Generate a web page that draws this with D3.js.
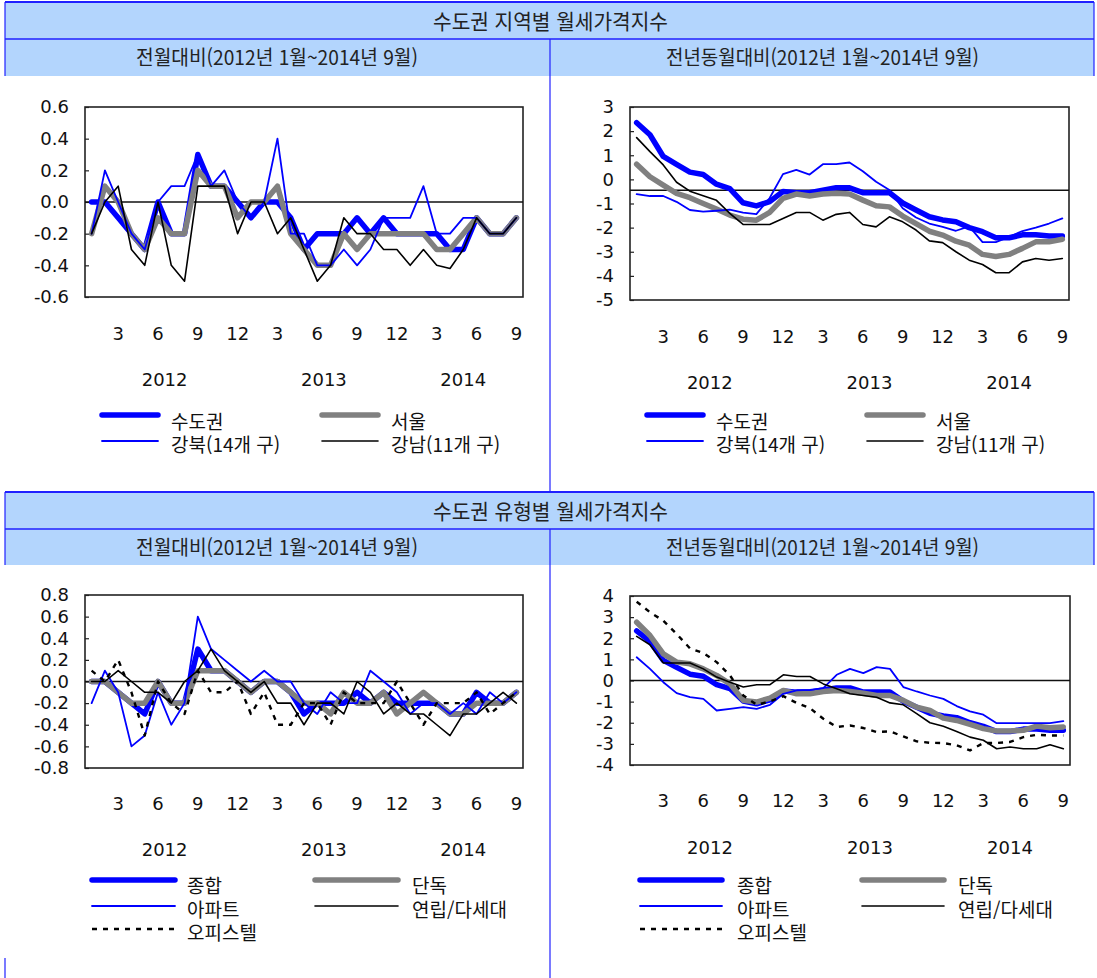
<!DOCTYPE html>
<html lang="ko">
<head>
<meta charset="utf-8">
<script src="https://cdn.jsdelivr.net/npm/d3@7"></script>
<style>
  body { margin: 0; background: #fff; }
  svg { display: block; }
  .axis text, .year-label { font-family: "DejaVu Sans", sans-serif; font-size: 18px; fill: #111; }
  .legend text { font-family: "Noto Sans CJK KR", sans-serif; font-size: 19px; fill: #111; }
  .band-text { font-family: "Noto Sans CJK KR", sans-serif; font-size: 20px; fill: #222; }
</style>
</head>
<body>
<svg id="page" width="1097" height="978"></svg>
<script>
// 2012.01 ~ 2014.09, monthly
const periods = [
  "2012.01","2012.02","2012.03","2012.04","2012.05","2012.06","2012.07","2012.08","2012.09","2012.10","2012.11","2012.12",
  "2013.01","2013.02","2013.03","2013.04","2013.05","2013.06","2013.07","2013.08","2013.09","2013.10","2013.11","2013.12",
  "2014.01","2014.02","2014.03","2014.04","2014.05","2014.06","2014.07","2014.08","2014.09"
];

// 지역별, 전월대비 (%)
const sudogwonMoM = [0.0, 0.0, -0.1, -0.2, -0.3, 0.0, -0.2, -0.2, 0.3, 0.1, 0.1, 0.0, -0.1, 0.0, 0.0, -0.1, -0.3, -0.2, -0.2, -0.2, -0.1, -0.2, -0.1, -0.2, -0.2, -0.2, -0.2, -0.3, -0.3, -0.1, -0.2, -0.2, -0.1];
const seoulMoM = [-0.2, 0.1, 0.0, -0.2, -0.3, -0.1, -0.2, -0.2, 0.2, 0.1, 0.1, -0.1, 0.0, 0.0, 0.1, -0.2, -0.3, -0.4, -0.4, -0.2, -0.3, -0.2, -0.2, -0.2, -0.2, -0.2, -0.3, -0.3, -0.2, -0.1, -0.2, -0.2, -0.1];
const gangbukMoM = [-0.2, 0.2, 0.0, -0.2, -0.3, 0.0, 0.1, 0.1, 0.3, 0.1, 0.2, 0.0, -0.1, 0.0, 0.4, -0.2, -0.2, -0.4, -0.4, -0.3, -0.4, -0.3, -0.1, -0.1, -0.1, 0.1, -0.2, -0.2, -0.1, -0.1, -0.2, -0.2, -0.1];
const gangnamMoM = [-0.2, 0.0, 0.1, -0.3, -0.4, 0.0, -0.4, -0.5, 0.1, 0.1, 0.1, -0.2, 0.0, 0.0, -0.2, -0.1, -0.3, -0.5, -0.4, -0.1, -0.2, -0.2, -0.3, -0.3, -0.4, -0.3, -0.4, -0.42, -0.3, -0.1, -0.2, -0.2, -0.1];

// 지역별, 전년동월대비 (%)
const sudogwonYoY = [2.35, 1.85, 0.95, 0.62, 0.3, 0.2, -0.2, -0.38, -0.97, -1.1, -0.92, -0.5, -0.55, -0.55, -0.45, -0.35, -0.35, -0.55, -0.55, -0.55, -0.98, -1.27, -1.55, -1.68, -1.76, -2.0, -2.17, -2.42, -2.42, -2.3, -2.3, -2.35, -2.35];
const seoulYoY = [0.63, 0.11, -0.24, -0.58, -0.76, -1.0, -1.23, -1.48, -1.65, -1.69, -1.37, -0.79, -0.61, -0.69, -0.61, -0.58, -0.61, -0.86, -1.09, -1.14, -1.52, -1.83, -2.15, -2.31, -2.56, -2.73, -3.11, -3.2, -3.11, -2.86, -2.59, -2.59, -2.48];
const gangbukYoY = [-0.61, -0.69, -0.69, -0.93, -1.27, -1.34, -1.3, -1.25, -1.38, -1.44, -0.77, 0.22, 0.39, 0.2, 0.63, 0.63, 0.7, 0.34, -0.1, -0.44, -1.2, -1.58, -1.83, -1.97, -2.13, -1.95, -2.6, -2.6, -2.38, -2.14, -2.0, -1.83, -1.62];
const gangnamYoY = [1.73, 1.15, 0.6, -0.12, -0.49, -0.68, -0.87, -1.41, -1.87, -1.87, -1.87, -1.62, -1.37, -1.37, -1.69, -1.45, -1.37, -1.87, -1.97, -1.55, -1.76, -2.1, -2.55, -2.62, -3.0, -3.35, -3.53, -3.87, -3.87, -3.42, -3.28, -3.35, -3.28];

// 유형별, 전월대비 (%)  (종합 = 수도권)
const dandokMoM = [0.0, 0.0, -0.1, -0.2, -0.2, 0.0, -0.2, -0.2, 0.1, 0.1, 0.1, 0.0, -0.1, 0.0, 0.0, -0.1, -0.2, -0.2, -0.3, -0.1, -0.2, -0.2, -0.1, -0.3, -0.2, -0.1, -0.2, -0.3, -0.3, -0.2, -0.2, -0.2, -0.1];
const apartMoM = [-0.2, 0.1, -0.1, -0.6, -0.5, -0.1, -0.4, -0.2, 0.6, 0.3, 0.2, 0.1, 0.0, 0.1, 0.0, 0.0, -0.2, -0.3, -0.1, -0.2, -0.2, 0.1, 0.0, -0.1, -0.3, -0.2, -0.2, -0.3, -0.2, -0.3, -0.1, -0.2, -0.1];
const yeonripMoM = [0.0, 0.0, 0.1, 0.0, -0.1, -0.1, -0.2, 0.0, 0.1, 0.3, 0.1, 0.0, -0.1, 0.0, -0.2, -0.2, -0.4, -0.2, -0.2, -0.3, 0.0, -0.1, -0.3, -0.2, -0.3, -0.3, -0.4, -0.5, -0.3, -0.3, -0.2, -0.1, -0.2];
const officetelMoM = [0.1, 0.0, 0.2, -0.1, -0.5, 0.0, -0.2, -0.3, 0.1, -0.1, -0.1, 0.0, -0.3, -0.1, -0.4, -0.4, -0.2, -0.2, -0.4, -0.1, -0.2, -0.2, -0.2, 0.0, -0.2, -0.4, -0.2, -0.2, -0.2, -0.1, -0.3, -0.2, -0.1];

// 유형별, 전년동월대비 (%)  (종합 = 수도권)
const dandokYoY = [2.76, 2.13, 1.26, 0.87, 0.79, 0.55, 0.24, -0.16, -0.94, -1.02, -0.83, -0.47, -0.63, -0.63, -0.52, -0.47, -0.52, -0.6, -0.71, -0.71, -0.94, -1.26, -1.42, -1.78, -1.89, -2.08, -2.28, -2.39, -2.39, -2.36, -2.16, -2.24, -2.2];
const apartYoY = [1.1, 0.55, -0.08, -0.6, -0.79, -0.87, -1.42, -1.34, -1.26, -1.34, -1.15, -0.63, -0.47, -0.44, -0.36, 0.27, 0.55, 0.35, 0.63, 0.55, -0.31, -0.52, -0.71, -0.87, -1.21, -1.46, -1.62, -2.02, -2.02, -2.02, -2.02, -2.02, -1.92];
const yeonripYoY = [2.09, 1.69, 0.83, 0.83, 0.83, 0.55, 0.16, -0.08, -0.31, -0.2, -0.2, 0.27, 0.19, 0.19, -0.16, -0.39, -0.63, -0.71, -0.79, -1.06, -1.15, -1.57, -2.0, -2.17, -2.41, -2.68, -2.83, -3.23, -3.15, -3.23, -3.23, -3.04, -3.23];
const officetelYoY = [3.73, 3.23, 2.83, 2.2, 1.52, 1.3, 0.87, 0.24, -0.71, -1.15, -0.99, -0.74, -1.06, -1.31, -1.81, -2.2, -2.13, -2.25, -2.44, -2.41, -2.65, -2.88, -2.95, -2.96, -3.07, -3.31, -2.96, -2.96, -2.91, -2.68, -2.57, -2.6, -2.6];

// tick labels
const ticksMoMRegion = [0.6, 0.4, 0.2, 0, -0.2, -0.4, -0.6];
const ticksYoYRegion = [3, 2, 1, 0, -1, -2, -3, -4, -5];
const ticksMoMType = [0.8, 0.6, 0.4, 0.2, 0, -0.2, -0.4, -0.6, -0.8];
const ticksYoYType = [4, 3, 2, 1, 0, -1, -2, -3, -4];

// line looks
const styles = {
  thickBlue: { stroke: "#0000ff", width: 5.5 },
  thickGray: { stroke: "#808080", width: 5.5 },
  thinBlue:  { stroke: "#0000ff", width: 1.8 },
  thinBlack: { stroke: "#000000", width: 1.6 },
  dashBlack: { stroke: "#000000", width: 2.4, dash: "5,6" }
};

const frameBlue = "#2020ff";
const bandFill = "#b3d5fd";

class LineChart {
  constructor(_config, _series) {
    this.config = {
      parentElement: _config.parentElement,
      box: _config.box,
      yDomain: _config.yDomain,
      yTicks: _config.yTicks,
      yFormat: _config.yFormat,
      refValue: _config.refValue || 0,
      xLabelPadding: _config.xLabelPadding || 30,
      yearLabelY: _config.yearLabelY,
      legend: _config.legend
    };
    this.series = _series;
    this.initVis();
  }

  initVis() {
    let vis = this;
    const b = vis.config.box;

    vis.xScale = d3.scaleBand().domain(periods).range([b.left, b.right]);
    vis.yScale = d3.scaleLinear().domain(vis.config.yDomain).range([b.bottom, b.top]);

    vis.g = d3.select(vis.config.parentElement).append("g").attr("class", "chart");

    vis.yAxis = d3.axisLeft(vis.yScale)
      .tickValues(vis.config.yTicks)
      .tickFormat(vis.config.yFormat)
      .tickSizeInner(-4)
      .tickSizeOuter(0)
      .tickPadding(16);

    // only months 3, 6, 9, 12 get a label
    vis.xAxis = d3.axisBottom(vis.xScale)
      .tickValues(periods.filter(p => +p.slice(5) % 3 === 0))
      .tickFormat(p => String(+p.slice(5)))
      .tickSize(0)
      .tickPadding(vis.config.xLabelPadding);

    vis.line = d3.line()
      .x((d, i) => vis.xScale(periods[i]) + vis.xScale.bandwidth() / 2)
      .y(d => vis.yScale(d));

    vis.renderVis();
  }

  renderVis() {
    let vis = this;
    const b = vis.config.box;

    const yAxisG = vis.g.append("g")
      .attr("class", "axis y-axis")
      .attr("transform", `translate(${b.left},0)`)
      .call(vis.yAxis);
    yAxisG.select(".domain").remove();
    yAxisG.selectAll("line").attr("stroke", "#222").attr("stroke-width", 1.2);

    const xAxisG = vis.g.append("g")
      .attr("class", "axis x-axis")
      .attr("transform", `translate(0,${b.bottom})`)
      .call(vis.xAxis);
    xAxisG.select(".domain").remove();

    // year labels centred under each year's months
    const years = d3.groups(periods, p => p.slice(0, 4));
    vis.g.selectAll(".year-label")
      .data(years)
      .join("text")
      .attr("class", "year-label")
      .attr("text-anchor", "middle")
      .attr("x", d => {
        const first = vis.xScale(d[1][0]);
        const last = vis.xScale(d[1][d[1].length - 1]) + vis.xScale.bandwidth();
        return (first + last) / 2;
      })
      .attr("y", vis.config.yearLabelY)
      .text(d => d[0]);

    // plot frame
    vis.g.append("rect")
      .attr("x", b.left).attr("y", b.top)
      .attr("width", b.right - b.left).attr("height", b.bottom - b.top)
      .attr("fill", "none").attr("stroke", "#222").attr("stroke-width", 1.6);

    // category axis line
    vis.g.append("line")
      .attr("x1", b.left).attr("x2", b.right)
      .attr("y1", vis.yScale(vis.config.refValue)).attr("y2", vis.yScale(vis.config.refValue))
      .attr("stroke", "#111").attr("stroke-width", 1.5);

    vis.g.append("g").attr("class", "series")
      .selectAll("path")
      .data(vis.series)
      .join("path")
      .attr("d", d => vis.line(d.values))
      .attr("fill", "none")
      .attr("stroke", d => d.style.stroke)
      .attr("stroke-width", d => d.style.width)
      .attr("stroke-dasharray", d => d.style.dash || null)
      .attr("stroke-linejoin", "round")
      .attr("stroke-linecap", d => d.style.dash ? "butt" : "round");

    // legend
    const lg = vis.config.legend;
    const legendG = vis.g.append("g").attr("class", "legend");
    const items = legendG.selectAll("g")
      .data(vis.series)
      .join("g");

    items.append("line")
      .attr("x1", d => lg.lineX[d.col])
      .attr("x2", d => lg.lineX[d.col] + lg.lineLen)
      .attr("y1", d => lg.lineY[d.row])
      .attr("y2", d => lg.lineY[d.row])
      .attr("stroke", d => d.style.stroke)
      .attr("stroke-width", d => d.style.width)
      .attr("stroke-dasharray", d => d.style.dash || null)
      .attr("stroke-linecap", d => d.style.dash ? "butt" : "round");

    items.append("text")
      .attr("x", d => lg.textX[d.col])
      .attr("y", d => lg.textY[d.row])
      .text(d => d.name);
  }
}

const svg = d3.select("#page");

// header bands
function drawHeader(top, mid, bottom, title, subLeft, subRight) {
  const g = svg.append("g").attr("class", "header");
  g.append("rect").attr("x", 5).attr("y", top).attr("width", 1089).attr("height", bottom - top).attr("fill", bandFill);
  g.append("line").attr("x1", 5).attr("x2", 1094).attr("y1", top).attr("y2", top).attr("stroke", frameBlue).attr("stroke-width", 2);
  g.append("line").attr("x1", 5).attr("x2", 1094).attr("y1", mid).attr("y2", mid).attr("stroke", frameBlue).attr("stroke-width", 1.5);
  g.append("line").attr("x1", 5).attr("x2", 5).attr("y1", top).attr("y2", bottom).attr("stroke", frameBlue).attr("stroke-width", 1.2);
  g.append("line").attr("x1", 1094).attr("x2", 1094).attr("y1", top).attr("y2", bottom).attr("stroke", frameBlue).attr("stroke-width", 1.2);

  g.append("text").attr("class", "band-text").attr("x", 433).attr("y", (top + mid) / 2 + 8)
    .attr("textLength", 235).attr("lengthAdjust", "spacingAndGlyphs").style("font-size", "21px").text(title);
  g.append("text").attr("class", "band-text").attr("x", 136).attr("y", (mid + bottom) / 2 + 7.5)
    .attr("textLength", 282).attr("lengthAdjust", "spacingAndGlyphs").text(subLeft);
  g.append("text").attr("class", "band-text").attr("x", 666).attr("y", (mid + bottom) / 2 + 7.5)
    .attr("textLength", 313).attr("lengthAdjust", "spacingAndGlyphs").text(subRight);
}

drawHeader(2, 39, 76, "수도권 지역별 월세가격지수", "전월대비(2012년 1월~2014년 9월)", "전년동월대비(2012년 1월~2014년 9월)");
drawHeader(492, 529, 565, "수도권 유형별 월세가격지수", "전월대비(2012년 1월~2014년 9월)", "전년동월대비(2012년 1월~2014년 9월)");

// centre divider
svg.append("line").attr("x1", 550).attr("x2", 550).attr("y1", 39).attr("y2", 492).attr("stroke", frameBlue).attr("stroke-width", 1.2);
svg.append("line").attr("x1", 550).attr("x2", 550).attr("y1", 529).attr("y2", 978).attr("stroke", frameBlue).attr("stroke-width", 1.2);
svg.append("line").attr("x1", 5).attr("x2", 5).attr("y1", 958).attr("y2", 978).attr("stroke", frameBlue).attr("stroke-width", 1.2);

const fmt1 = d => d.toFixed(1);
const fmt0 = d => String(d);

new LineChart({
  parentElement: "#page",
  box: { left: 85, top: 107, right: 523, bottom: 297 },
  yDomain: [-0.6, 0.6], yTicks: ticksMoMRegion, yFormat: fmt1,
  xLabelPadding: 30, yearLabelY: 386,
  legend: { lineX: [102, 322], lineLen: 56, textX: [171, 391], lineY: [415, 441], textY: [429, 452] }
}, [
  { name: "수도권", values: sudogwonMoM, style: styles.thickBlue, col: 0, row: 0 },
  { name: "서울", values: seoulMoM, style: styles.thickGray, col: 1, row: 0 },
  { name: "강북(14개 구)", values: gangbukMoM, style: styles.thinBlue, col: 0, row: 1 },
  { name: "강남(11개 구)", values: gangnamMoM, style: styles.thinBlack, col: 1, row: 1 }
]);

new LineChart({
  parentElement: "#page",
  box: { left: 630, top: 107, right: 1069, bottom: 300 },
  yDomain: [-5, 3], yTicks: ticksYoYRegion, yFormat: fmt0, refValue: -0.45,
  xLabelPadding: 30, yearLabelY: 389,
  legend: { lineX: [647, 867], lineLen: 56, textX: [716, 936], lineY: [415, 441], textY: [429, 452] }
}, [
  { name: "수도권", values: sudogwonYoY, style: styles.thickBlue, col: 0, row: 0 },
  { name: "서울", values: seoulYoY, style: styles.thickGray, col: 1, row: 0 },
  { name: "강북(14개 구)", values: gangbukYoY, style: styles.thinBlue, col: 0, row: 1 },
  { name: "강남(11개 구)", values: gangnamYoY, style: styles.thinBlack, col: 1, row: 1 }
]);

new LineChart({
  parentElement: "#page",
  box: { left: 85, top: 595, right: 523, bottom: 768 },
  yDomain: [-0.8, 0.8], yTicks: ticksMoMType, yFormat: fmt1,
  xLabelPadding: 29, yearLabelY: 856,
  legend: { lineX: [92, 315], lineLen: 83, textX: [187, 412], lineY: [880, 906, 929], textY: [893, 917, 940] }
}, [
  { name: "종합", values: sudogwonMoM, style: styles.thickBlue, col: 0, row: 0 },
  { name: "단독", values: dandokMoM, style: styles.thickGray, col: 1, row: 0 },
  { name: "아파트", values: apartMoM, style: styles.thinBlue, col: 0, row: 1 },
  { name: "연립/다세대", values: yeonripMoM, style: styles.thinBlack, col: 1, row: 1 },
  { name: "오피스텔", values: officetelMoM, style: styles.dashBlack, col: 0, row: 2 }
]);

new LineChart({
  parentElement: "#page",
  box: { left: 630, top: 596, right: 1070, bottom: 765 },
  yDomain: [-4, 4], yTicks: ticksYoYType, yFormat: fmt0,
  xLabelPadding: 29, yearLabelY: 854,
  legend: { lineX: [640, 862], lineLen: 82, textX: [737, 958], lineY: [880, 906, 929], textY: [893, 917, 940] }
}, [
  { name: "종합", values: sudogwonYoY, style: styles.thickBlue, col: 0, row: 0 },
  { name: "단독", values: dandokYoY, style: styles.thickGray, col: 1, row: 0 },
  { name: "아파트", values: apartYoY, style: styles.thinBlue, col: 0, row: 1 },
  { name: "연립/다세대", values: yeonripYoY, style: styles.thinBlack, col: 1, row: 1 },
  { name: "오피스텔", values: officetelYoY, style: styles.dashBlack, col: 0, row: 2 }
]);
</script>
</body>
</html>
